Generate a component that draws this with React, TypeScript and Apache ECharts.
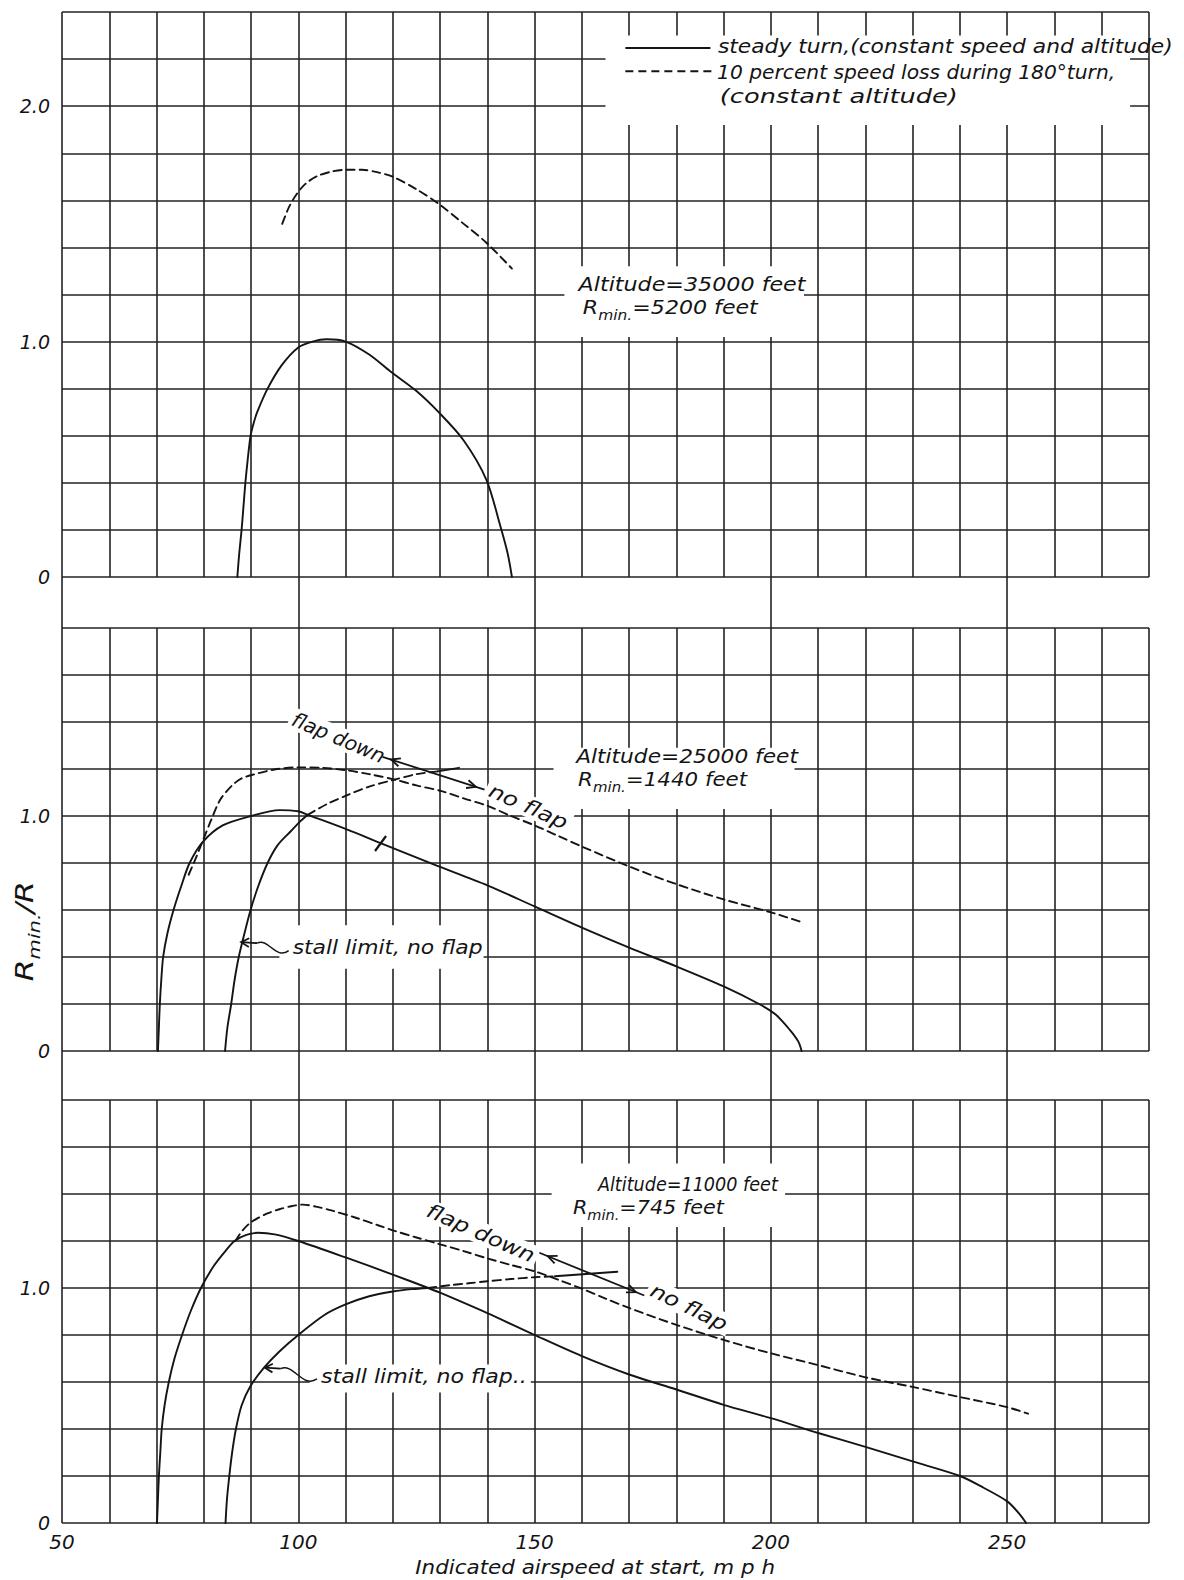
import React, { useEffect, useRef } from 'react';
import * as echarts from 'echarts';

const FONT = '"DejaVu Sans", "Liberation Sans", Arial, sans-serif';
const INK = '#141414';
const GRID_INK = '#222222';

// ---------- axes ----------
const X_MIN = 50;
const X_MAX = 280;
const X_STEP = 10;
const X_LABELED = [50, 100, 150, 200, 250];
const GAP_X_MAX = 250;
const GAP_X_STEP = 50;
const PANEL_Y_MAX = [2.4, 1.8, 1.8];
const Y_STEP = 0.2;
const Y_LABELED = [0, 1, 2];
const X_TITLE = 'Indicated airspeed at start, m p h';

// ---------- panel 1 : altitude 35000 ft ----------
const p1SteadyTurn = [[87.1, 0], [87.5, 0.1], [88, 0.2], [88.4, 0.3], [88.8, 0.4], [89.3, 0.5], [89.9, 0.6], [90.5, 0.65], [91.3, 0.7], [93.5, 0.8], [96.5, 0.9], [100, 0.975], [103, 1.0], [106, 1.01], [110, 1.0], [115, 0.945], [119.5, 0.873], [125, 0.79], [129.7, 0.7], [135, 0.58], [139.8, 0.413], [142.7, 0.22], [144.3, 0.1], [145.2, 0]];
const p1SpeedLoss = [[96.6, 1.5], [98, 1.57], [99.6, 1.625], [101.5, 1.67], [104, 1.703], [107, 1.722], [110, 1.73], [113.5, 1.73], [117, 1.718], [120, 1.7], [125, 1.647], [129.7, 1.585], [135, 1.5], [139.8, 1.42], [145.2, 1.31]];

// ---------- panel 2 : altitude 25000 ft ----------
const p2SteadyFlap = [[70.3, 0], [70.5, 0.1], [70.7, 0.2], [71, 0.3], [71.4, 0.4], [72.3, 0.5], [73.6, 0.6], [75.2, 0.7], [77, 0.8], [79.8, 0.89], [84, 0.96], [90, 1.0], [96, 1.025], [100, 1.02], [102, 1.005], [110, 0.945], [117.4, 0.885], [128.5, 0.795], [140, 0.705], [150, 0.615], [160, 0.525], [170, 0.44], [180, 0.36], [190, 0.275], [197.5, 0.2], [201, 0.155], [204, 0.09], [205.8, 0.04], [206.5, 0]];
const p2StallNoFlap = [[84.5, 0], [85, 0.1], [85.8, 0.2], [86.5, 0.3], [87.4, 0.4], [88.6, 0.5], [89.9, 0.6], [91.5, 0.7], [93.5, 0.8], [95.6, 0.875], [98.4, 0.935], [100.3, 0.975], [102, 1.005]];
const p2LossFlap = [[76.8, 0.75], [78.3, 0.82], [80, 0.905], [81.5, 0.98], [83.5, 1.07], [86, 1.13], [88, 1.16], [90.6, 1.177], [95, 1.198], [100, 1.207], [105, 1.205], [110, 1.195], [115, 1.178], [120.4, 1.155], [125, 1.13], [130.3, 1.106], [135, 1.075], [140.2, 1.042], [145, 1.0], [150, 0.96], [155, 0.915], [160, 0.87], [170, 0.785], [180, 0.71], [190, 0.645], [200, 0.59], [207, 0.545]];
const p2LossNoFlap = [[102, 1.005], [106, 1.05], [110.5, 1.09], [115, 1.125], [120.4, 1.155], [125, 1.178], [129.5, 1.19]];
const p2NoFlapEnd = [[129.5, 1.19], [134, 1.205]];

// ---------- panel 3 : altitude 11000 ft ----------
const p3SteadyFlap = [[70.1, 0], [70.3, 0.1], [70.5, 0.2], [70.8, 0.3], [71.1, 0.4], [71.7, 0.5], [72.6, 0.6], [73.8, 0.7], [75.4, 0.8], [77.2, 0.9], [79.4, 1.0], [82, 1.09], [84.5, 1.155], [86.5, 1.2], [89, 1.226], [91.5, 1.235], [95, 1.228], [100, 1.2], [110, 1.13], [120, 1.057], [127.5, 1.0], [130, 0.98], [140, 0.893], [150, 0.8], [160, 0.71], [170, 0.632], [180, 0.568], [190, 0.503], [200, 0.446], [210, 0.383], [220, 0.324], [230, 0.262], [240, 0.2], [245, 0.15], [250, 0.092], [252.4, 0.043], [254, 0]];
const p3StallNoFlap = [[84.6, 0], [84.9, 0.1], [85.4, 0.2], [86, 0.3], [86.8, 0.4], [88, 0.5], [89.8, 0.58], [92.7, 0.66], [96, 0.73], [100, 0.8], [105.6, 0.886], [110, 0.93], [115, 0.965], [120, 0.985], [124, 0.995], [127.5, 1.0]];
const p3LossFlap = [[86.7, 1.2], [88, 1.24], [90, 1.28], [93.2, 1.315], [96, 1.335], [98.5, 1.348], [101, 1.355], [104, 1.345], [107, 1.33], [112, 1.3], [117, 1.266], [120.4, 1.243], [125, 1.215], [130, 1.186], [135, 1.157], [140, 1.126], [145, 1.098], [150, 1.071], [155, 1.035], [160, 0.997], [165, 0.955], [170, 0.915], [180, 0.843], [190, 0.779], [200, 0.722], [210, 0.672], [220, 0.62], [230, 0.579], [240, 0.536], [250, 0.493], [254.4, 0.465]];
const p3LossNoFlap = [[127.5, 1.0], [132, 1.012], [136, 1.02], [140, 1.029], [145, 1.038], [150, 1.046], [154.3, 1.05]];
const p3NoFlapEnd = [[154.3, 1.05], [167.5, 1.069]];

// ---------- texts ----------
const LEGEND_SOLID = 'steady turn,(constant speed and altitude)';
const LEGEND_DASHED_1 = '10 percent speed loss during 180°turn,';
const LEGEND_DASHED_2 = '(constant altitude)';
const ALTITUDE_TEXT = ['Altitude=35000 feet', 'Altitude=25000 feet', 'Altitude=11000 feet'];
const RMIN_TEXT = ['=5200 feet', '=1440 feet', '=745 feet'];
const STALL_TEXT = ['stall limit, no flap', 'stall limit, no flap..'];

// ---------- layout ----------
const W = 1184;
const H = 1580;
const LEFT = 62;
const WIDTH = 1087;
const PANELS = [
  { top: 12, height: 565 },
  { top: 628, height: 423 },
  { top: 1100, height: 423 },
];
const GAPS = [
  { top: 577, height: 51 },
  { top: 1051, height: 49 },
];

let measureCtx: CanvasRenderingContext2D | null = null;
function textWidth(s: string, size: number): number {
  if (!measureCtx) measureCtx = document.createElement('canvas').getContext('2d');
  if (!measureCtx) return s.length * size * 0.55;
  measureCtx.font = `italic ${size}px ${FONT}`;
  return measureCtx.measureText(s).width;
}

function lineSeries(p: number, data: number[][], dashed: boolean, name: string) {
  return {
    type: 'line',
    name,
    xAxisIndex: p,
    yAxisIndex: p,
    data,
    showSymbol: false,
    symbol: 'none',
    smooth: 0.3,
    silent: true,
    z: 3,
    lineStyle: { color: INK, width: 1.9, type: dashed ? [8, 5] : 'solid', cap: 'round', join: 'round' },
  };
}

function buildOption() {
  const grids: any[] = [];
  const xAxes: any[] = [];
  const yAxes: any[] = [];
  const splitStyle = { color: GRID_INK, width: 1.6 };
  PANELS.forEach((p, i) => {
    grids.push({ left: LEFT, top: p.top, width: WIDTH, height: p.height, show: false });
    xAxes.push({
      gridIndex: i,
      type: 'value',
      min: X_MIN,
      max: X_MAX,
      interval: X_STEP,
      axisLine: { show: false },
      axisTick: { show: false },
      axisLabel:
        i === 2
          ? {
              show: true,
              margin: 9,
              fontSize: 20,
              fontStyle: 'italic',
              fontFamily: FONT,
              color: INK,
              formatter: (v: number) => (X_LABELED.indexOf(Math.round(v)) >= 0 ? String(Math.round(v)) : ''),
            }
          : { show: false },
      splitLine: { show: true, lineStyle: splitStyle },
    });
    yAxes.push({
      gridIndex: i,
      type: 'value',
      min: 0,
      max: PANEL_Y_MAX[i],
      interval: Y_STEP,
      axisLine: { show: false },
      axisTick: { show: false },
      axisLabel: {
        show: true,
        margin: 12,
        fontSize: 19,
        fontStyle: 'italic',
        fontFamily: FONT,
        color: INK,
        formatter: (v: number) => {
          const r = Math.round(v * 10) / 10;
          const hit = Y_LABELED.some((t) => Math.abs(t - r) < 1e-6);
          return hit ? (r === 0 ? '0' : r.toFixed(1)) : '';
        },
      },
      splitLine: { show: true, lineStyle: splitStyle },
    });
  });
  GAPS.forEach((g, j) => {
    const idx = 3 + j;
    grids.push({ left: LEFT, top: g.top, width: (WIDTH * (GAP_X_MAX - X_MIN)) / (X_MAX - X_MIN), height: g.height, show: false });
    xAxes.push({
      gridIndex: idx,
      type: 'value',
      min: X_MIN,
      max: GAP_X_MAX,
      interval: GAP_X_STEP,
      axisLine: { show: false },
      axisTick: { show: false },
      axisLabel: { show: false },
      splitLine: { show: true, lineStyle: splitStyle },
    });
    yAxes.push({ gridIndex: idx, type: 'value', min: 0, max: 1, show: false, splitLine: { show: false } });
  });

  const series = [
    lineSeries(0, p1SteadyTurn, false, 'p1 steady turn'),
    lineSeries(0, p1SpeedLoss, true, 'p1 speed loss'),
    lineSeries(1, p2SteadyFlap, false, 'p2 steady flap down'),
    lineSeries(1, p2StallNoFlap, false, 'p2 stall limit no flap'),
    lineSeries(1, p2LossFlap, true, 'p2 speed loss flap down'),
    lineSeries(1, p2LossNoFlap, true, 'p2 speed loss no flap'),
    lineSeries(1, p2NoFlapEnd, false, 'p2 no flap end'),
    lineSeries(2, p3SteadyFlap, false, 'p3 steady flap down'),
    lineSeries(2, p3StallNoFlap, false, 'p3 stall limit no flap'),
    lineSeries(2, p3LossFlap, true, 'p3 speed loss flap down'),
    lineSeries(2, p3LossNoFlap, true, 'p3 speed loss no flap'),
    lineSeries(2, p3NoFlapEnd, false, 'p3 no flap end'),
  ];

  return {
    animation: false,
    backgroundColor: '#ffffff',
    grid: grids,
    xAxis: xAxes,
    yAxis: yAxes,
    series,
  };
}

function buildGraphic(chart: any) {
  const P = (p: number, x: number, y: number): number[] =>
    chart.convertToPixel({ xAxisIndex: p, yAxisIndex: p }, [x, y]);
  const els: any[] = [];
  const deg = Math.PI / 180;

  const box = (p: number, x0: number, y0: number, x1: number, y1: number) => {
    const a = P(p, x0, y1);
    const b = P(p, x1, y0);
    els.push({ type: 'rect', z: 1, silent: true, shape: { x: a[0], y: a[1], width: b[0] - a[0], height: b[1] - a[1] }, style: { fill: '#ffffff' } });
  };
  const txt = (pt: number[], text: string, size: number, target: number, opt: any = {}) => {
    const w = textWidth(text, size);
    els.push({
      type: 'text',
      x: pt[0],
      y: pt[1],
      rotation: opt.rotation || 0,
      scaleX: target ? target / w : 1,
      z: 5,
      silent: true,
      style: {
        text,
        fontSize: size,
        fontFamily: FONT,
        fontStyle: 'italic',
        fill: INK,
        align: opt.align || 'left',
        verticalAlign: 'middle',
        backgroundColor: opt.bg,
        padding: opt.bg ? [1, 3] : 0,
      },
    });
  };
  const rmin = (pt: number[], rest: string, target: number, size = 20, sub = 14, rotation = 0, align = 'left') => {
    const w = textWidth('R', size) + textWidth('min.', sub) + textWidth(rest, size);
    els.push({
      type: 'text',
      x: pt[0],
      y: pt[1],
      rotation,
      scaleX: target / w,
      z: 5,
      silent: true,
      style: {
        text: `{a|R}{b|min.}{a|${rest}}`,
        align,
        verticalAlign: 'middle',
        rich: {
          a: { fontSize: size, fontFamily: FONT, fontStyle: 'italic', fill: INK, lineHeight: size + 10, verticalAlign: 'middle' },
          b: { fontSize: sub, fontFamily: FONT, fontStyle: 'italic', fill: INK, lineHeight: sub + 2, verticalAlign: 'bottom' },
        },
      },
    });
  };
  const seg = (a: number[], b: number[], dash?: number[], width = 2) => {
    els.push({ type: 'line', z: 5, silent: true, shape: { x1: a[0], y1: a[1], x2: b[0], y2: b[1] }, style: { stroke: INK, lineWidth: width, lineDash: dash || null } });
  };
  const head = (tip: number[], dir: number[], size = 10, spread = 0.42) => {
    const len = Math.hypot(dir[0], dir[1]) || 1;
    const bx = -dir[0] / len;
    const by = -dir[1] / len;
    const r = (a: number) => [tip[0] + size * (bx * Math.cos(a) - by * Math.sin(a)), tip[1] + size * (bx * Math.sin(a) + by * Math.cos(a))];
    els.push({ type: 'polyline', z: 5, silent: true, shape: { points: [r(spread), tip, r(-spread)] }, style: { stroke: INK, lineWidth: 1.8, fill: null } });
  };
  const doubleArrow = (p: number, a: number[], b: number[]) => {
    const A = P(p, a[0], a[1]);
    const B = P(p, b[0], b[1]);
    seg(A, B, undefined, 1.8);
    const d = [B[0] - A[0], B[1] - A[1]];
    const L = Math.hypot(d[0], d[1]);
    const u = [d[0] / L, d[1] / L];
    head([A[0] + u[0] * 9, A[1] + u[1] * 9], [-u[0], -u[1]]);
    head([B[0] - u[0] * 9, B[1] - u[1] * 9], u);
  };
  const leader = (tip: number[], textStart: number[]) => {
    const s = [tip[0] + 16, tip[1] + 1];
    seg(tip, s, undefined, 1.8);
    head(tip, [-1, -0.05], 9, 0.5);
    const e = [textStart[0] - 4, textStart[1] + 3];
    const L = e[0] - s[0];
    els.push({
      type: 'bezierCurve',
      z: 5,
      silent: true,
      shape: { x1: s[0], y1: s[1], x2: e[0], y2: e[1], cpx1: s[0] + L * 0.35, cpy1: s[1] - 6, cpx2: s[0] + L * 0.6, cpy2: e[1] + 10 },
      style: { stroke: INK, lineWidth: 1.5, fill: null },
    });
  };

  // white boxes that interrupt the grid
  box(0, 165, 1.92, 276, 2.30); // legend
  box(0, 156.3, 1.02, 207, 1.32);
  box(1, 154, 1.03, 205, 1.29);
  box(2, 153.6, 1.26, 203, 1.53);
  box(1, 96, 0.35, 139.2, 0.535);
  box(2, 102.4, 0.555, 149.2, 0.675);

  // legend
  seg(P(0, 169.2, 2.247), P(0, 187.2, 2.247), undefined, 2);
  seg(P(0, 169.2, 2.148), P(0, 187.6, 2.148), [8, 5], 2);
  txt(P(0, 188.8, 2.254), LEGEND_SOLID, 20, 455);
  txt(P(0, 188.6, 2.147), LEGEND_DASHED_1, 20, 398);
  txt(P(0, 189.2, 2.045), LEGEND_DASHED_2, 20, 238);

  // altitude blocks
  txt(P(0, 159.3, 1.245), ALTITUDE_TEXT[0], 20, 227);
  rmin(P(0, 160.2, 1.147), RMIN_TEXT[0], 175);
  txt(P(1, 158.8, 1.255), ALTITUDE_TEXT[1], 20, 222);
  rmin(P(1, 159.2, 1.157), RMIN_TEXT[1], 169);
  txt(P(2, 163.4, 1.444), ALTITUDE_TEXT[2], 20, 180);
  rmin(P(2, 158.1, 1.346), RMIN_TEXT[2], 151);

  // flap down / no flap
  txt(P(1, 108.5, 1.333), 'flap down', 20, 99, { rotation: -23 * deg, align: 'center', bg: '#ffffff' });
  txt(P(1, 148.7, 1.042), 'no flap', 20, 84, { rotation: -24 * deg, align: 'center', bg: '#ffffff' });
  doubleArrow(1, [117.8, 1.252], [139.4, 1.112]);
  txt(P(2, 138.6, 1.234), 'flap down', 20, 116, { rotation: -24 * deg, align: 'center', bg: '#ffffff' });
  txt(P(2, 182.7, 0.92), 'no flap', 20, 83, { rotation: -26 * deg, align: 'center', bg: '#ffffff' });
  doubleArrow(2, [151, 1.15], [173.2, 0.968]);

  // tick mark on panel 2 steady curve
  const c = P(1, 117.4, 0.883);
  seg([c[0] - 5.5, c[1] + 7.5], [c[0] + 5.5, c[1] - 7.5], undefined, 2.2);

  // stall limit labels
  const s2 = P(1, 98.8, 0.44);
  leader(P(1, 87.9, 0.463), s2);
  txt(s2, STALL_TEXT[0], 20, 190);
  const s3 = P(2, 104.8, 0.626);
  leader(P(2, 92.9, 0.661), s3);
  txt(s3, STALL_TEXT[1], 20, 206);

  // axis titles
  const xt = P(2, 162.8, 0);
  txt([xt[0], xt[1] + 44], X_TITLE, 20, 360, { align: 'center' });
  const yt = P(1, X_MIN, 0.51);
  rmin([25, yt[1]], '/R', 100, 24, 16, Math.PI / 2, 'center');

  return els;
}

export default function App() {
  const ref = useRef<HTMLDivElement | null>(null);
  useEffect(() => {
    if (!ref.current) return;
    const chart = echarts.init(ref.current, null, { renderer: 'svg' });
    chart.setOption(buildOption() as any);
    chart.setOption({ graphic: buildGraphic(chart) } as any);
    return () => chart.dispose();
  }, []);
  return (
    <div
      ref={ref}
      style={{ position: 'absolute', left: 0, top: 0, width: W, height: H, background: '#ffffff' }}
    />
  );
}
